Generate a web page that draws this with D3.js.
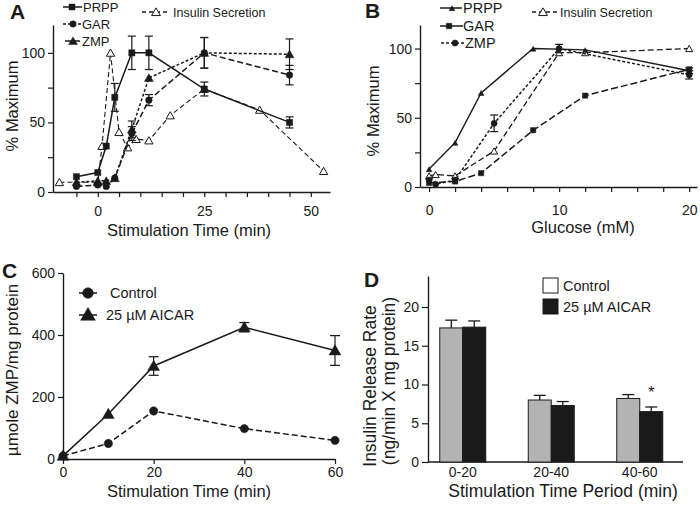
<!DOCTYPE html>
<html><head><meta charset="utf-8">
<script src="https://cdn.jsdelivr.net/npm/d3@7"></script>
<style>body{margin:0;background:#fff}svg text{font-family:"Liberation Sans",Arial,Helvetica,sans-serif;fill:#1a1a1a}</style>
</head><body><svg id="c" width="700" height="509"></svg>
<script>
// ---------- DATA ----------
// Panel A (stimulation time, min -> % maximum)
const aPrppT=[-5,0,2,4,8,12,25,45], aPrppV=[11,14,33,68,100,100,74,50], aPrppE=[0,0,0,10,12,12,5,4];
const aGarT=[-5,0,2,4,8,12,25,45],  aGarV=[4,5,4,10,42,66,100,84],   aGarE=[0,0,0,0,5,4,11,7];
const aZmpT=[-5,0,2,4,8,12,25,45],  aZmpV=[7,8,8,10,45,82,100,99],   aZmpE=[0,0,0,0,6,0,11,11];
const aInsT=[-9,0,1,3,5,7,9,12,17,25,38,53], aInsV=[7,7,33,100,43,32,38,37,55,74,59,15];
// Panel B (glucose mM -> % maximum)
const bPrppG=[0,2,4,8,12,20], bPrppV=[13,32,68,100,99,84], bPrppE=[0,0,0,0,0,2];
const bGarG=[0,2,4,8,12,20],  bGarV=[3,4,10,41,66,85];
const bZmpG=[0,0.5,2,5,10,20], bZmpV=[5,2,5,46,100,81], bZmpE=[0,0,0,6,3,3];
const bInsG=[0,0.5,2,5,10,12,20], bInsV=[8,9,8,26,97,97,100];
// Panel C (stimulation time -> umole ZMP/mg protein)
const cTime=[0,10,20,40,60];
const cCtrl=[10,50,155,98,60];
const cAicar=[10,145,300,425,350], cAicarE=[0,0,30,15,48];
// Panel D (insulin release rate)
const dPeriods=["0-20","20-40","40-60"];
const dCtrl=[17.3,8.0,8.2], dCtrlE=[1.0,0.6,0.5];
const dAicar=[17.4,7.3,6.5], dAicarE=[0.8,0.5,0.6];
// Ticks
const aXMajor=[0,25,50], aXMinor=[-5,5,10,15,20,30,35,40,45];
const pctMajor=[0,50,100], pctMinor=[25,75];
const bXMajor=[0,10,20], bXMinor=[2,4,6,8,12,14,16,18];
const cXTicks=[0,20,40,60], cYTicks=[0,200,400,600];
const dYTicks=[0,5,10,15,20];

// ---------- DRAW ----------
const svg=d3.select("#c");
const INK="#1a1a1a";

function zipS(t,v,e){return t.map((x,i)=>({x:x,y:v[i],e:e?e[i]:0}));}

function axisX(g,x,y0,major,minor,pad,fs){
  g.append("g").attr("transform",`translate(0,${y0})`)
    .call(d3.axisBottom(x).tickValues(major).tickSize(5).tickPadding(pad).tickSizeOuter(0).tickFormat(d3.format("d")))
    .call(s=>{s.selectAll("text").attr("font-size",fs);});
  if(minor) g.append("g").attr("transform",`translate(0,${y0})`)
    .call(d3.axisBottom(x).tickValues(minor).tickSize(5).tickSizeOuter(0).tickFormat(""))
    .call(s=>s.select(".domain").remove());
}
function axisY(g,y,x0,major,minor,pad,fs,ts){
  g.append("g").attr("transform",`translate(${x0},0)`)
    .call(d3.axisLeft(y).tickValues(major).tickSize(ts||5).tickPadding(pad).tickSizeOuter(0))
    .call(s=>{s.selectAll("text").attr("font-size",fs);});
  if(minor) g.append("g").attr("transform",`translate(${x0},0)`)
    .call(d3.axisLeft(y).tickValues(minor).tickSize(ts||5).tickSizeOuter(0).tickFormat(""))
    .call(s=>s.select(".domain").remove());
}
function styleAxes(){
  svg.selectAll(".domain").attr("stroke",INK).attr("stroke-width",1.4);
  svg.selectAll(".tick line").attr("stroke",INK).attr("stroke-width",1.2);
  svg.selectAll(".tick text").attr("fill",INK).attr("font-family",'"Liberation Sans",Arial,sans-serif');
}
const symT={square:d3.symbolSquare,circle:d3.symbolCircle,triangle:d3.symbolTriangle};
function drawSeries(g,x,y,s){
  const line=d3.line().x(d=>x(d.x)).y(d=>y(d.y));
  g.append("path").datum(s.pts).attr("d",line).attr("fill","none")
    .attr("stroke",INK).attr("stroke-width",s.w||1.5).attr("stroke-dasharray",s.dash||null);
  const cap=s.cap||4;
  s.pts.filter(d=>d.e>0).forEach(d=>{
    const xx=x(d.x), y1=y(d.y-d.e), y2=y(d.y+d.e);
    g.append("line").attr("x1",xx).attr("x2",xx).attr("y1",y1).attr("y2",y2).attr("stroke",INK).attr("stroke-width",1.2);
    [y1,y2].forEach(yy=>g.append("line").attr("x1",xx-cap).attr("x2",xx+cap).attr("y1",yy).attr("y2",yy).attr("stroke",INK).attr("stroke-width",1.2));
  });
  g.selectAll(null).data(s.pts).join("path")
    .attr("transform",d=>`translate(${x(d.x)},${y(d.y)+(s.sym==="triangle"?1:0)})`)
    .attr("d",d3.symbol().type(symT[s.sym]).size(s.size))
    .attr("fill",s.open?"#fff":INK).attr("stroke",INK).attr("stroke-width",s.open?1:0.5);
}
function legendItem(g,x1,x2,mx,yy,sym,size,dash,open,label,tx,fs){
  g.append("line").attr("x1",x1).attr("x2",x2).attr("y1",yy).attr("y2",yy).attr("stroke",INK).attr("stroke-width",1.5).attr("stroke-dasharray",dash||null);
  g.append("path").attr("transform",`translate(${mx},${yy+(sym==="triangle"?1:0)})`)
    .attr("d",d3.symbol().type(symT[sym]).size(size)).attr("fill",open?"#fff":INK).attr("stroke",INK).attr("stroke-width",open?1:0.5);
  g.append("text").attr("x",tx).attr("y",yy).attr("dy","0.36em").attr("font-size",fs).text(label);
}
function letter(x,y,t){svg.append("text").attr("x",x).attr("y",y).attr("font-size",21).attr("font-weight","bold").text(t);}
function ytitle(x,y,t,fs){svg.append("text").attr("transform",`translate(${x},${y}) rotate(-90)`).attr("text-anchor","middle").attr("font-size",fs||16.5).text(t);}
function xtitle(x,y,t,fs){svg.append("text").attr("x",x).attr("y",y).attr("text-anchor","middle").attr("font-size",fs||16.5).text(t);}

// ===== Panel A =====
{
  const g=svg.append("g");
  const x=d3.scaleLinear().domain([-10.5,54.5]).range([53,330]);
  const y=d3.scaleLinear().domain([0,120]).range([192,25]);
  axisX(g,x,192,aXMajor,aXMinor,9,14);
  axisY(g,y,53,pctMajor,pctMinor,3,14);
  drawSeries(g,x,y,{pts:zipS(aInsT,aInsV),sym:"triangle",size:30,open:true,dash:"5,3",w:1.1});
  drawSeries(g,x,y,{pts:zipS(aZmpT,aZmpV,aZmpE),sym:"triangle",size:34,dash:"3,2"});
  drawSeries(g,x,y,{pts:zipS(aGarT,aGarV,aGarE),sym:"circle",size:34,dash:"6,3"});
  drawSeries(g,x,y,{pts:zipS(aPrppT,aPrppV,aPrppE),sym:"square",size:38});
  letter(10,19,"A");
  legendItem(g,63,82,72,7,"square",36,null,false,"PRPP",83,13);
  legendItem(g,63,81,73,24,"circle",32,"3,2",false,"GAR",82,13);
  legendItem(g,65,81,73,41,"triangle",34,"6,3",false,"ZMP",82,13);
  legendItem(g,142,170,156,12,"triangle",34,"4,3",true,"Insulin Secretion",173,12.5);
  ytitle(18,106,"% Maximum");
  xtitle(189,236,"Stimulation Time (min)");
}
// ===== Panel B =====
{
  const g=svg.append("g");
  const x=d3.scaleLinear().domain([-0.7,20.6]).range([420,697]);
  const y=d3.scaleLinear().domain([0,117]).range([187,25]);
  axisX(g,x,187,bXMajor,bXMinor,13,14);
  axisY(g,y,420,pctMajor,pctMinor,3,14);
  drawSeries(g,x,y,{pts:zipS(bInsG,bInsV),sym:"triangle",size:22,open:true,dash:"6,3",w:1.3});
  drawSeries(g,x,y,{pts:zipS(bGarG,bGarV),sym:"square",size:28,dash:"7,3"});
  drawSeries(g,x,y,{pts:zipS(bZmpG,bZmpV,bZmpE),sym:"circle",size:30,dash:"3,2",cap:4});
  drawSeries(g,x,y,{pts:zipS(bPrppG,bPrppV,bPrppE),sym:"triangle",size:14,w:1.4});
  letter(365,18,"B");
  legendItem(g,440,462,452,8,"triangle",14,null,false,"PRPP",463,14.5);
  legendItem(g,440,463,449,26,"square",30,null,false,"GAR",463,14.5);
  legendItem(g,441,464,455,43,"circle",30,"3,2",false,"ZMP",465,14.5);
  legendItem(g,532,558,543,12,"triangle",34,"4,3",true,"Insulin Secretion",560,12.5);
  ytitle(379,111,"% Maximum");
  xtitle(583,233,"Glucose (mM)");
}
// ===== Panel C =====
{
  const g=svg.append("g");
  const x=d3.scaleLinear().domain([0,60]).range([63,335]);
  const y=d3.scaleLinear().domain([0,600]).range([459,273]);
  axisX(g,x,459,cXTicks,null,3,14);
  axisY(g,y,63,cYTicks,null,3,14);
  drawSeries(g,x,y,{pts:zipS(cTime,cCtrl),sym:"circle",size:55,dash:"6,3"});
  drawSeries(g,x,y,{pts:zipS(cTime,cAicar,cAicarE),sym:"triangle",size:60,cap:5});
  letter(2,278,"C");
  legendItem(g,79,97,88,293,"circle",90,null,false,"Control",110,14.5);
  legendItem(g,79,97,88,315,"triangle",95,null,false,"25 µM AICAR",106,14.5);
  ytitle(18,370,"µmole ZMP/mg protein",17);
  xtitle(189,497,"Stimulation Time (min)");
}
// ===== Panel D =====
{
  const g=svg.append("g");
  const x=d3.scaleBand().domain(dPeriods).range([418.5,684]);
  const y=d3.scaleLinear().domain([0,24]).range([462,276]);
  axisY(g,y,428,dYTicks,null,3,14,6);
  g.append("g").attr("transform","translate(0,462)")
    .call(d3.axisBottom(x).tickSize(0).tickPadding(5))
    .call(s=>{s.select(".domain").remove();s.selectAll("text").attr("font-size",14);});
  g.append("line").attr("x1",428).attr("x2",683).attr("y1",462).attr("y2",462).attr("stroke",INK).attr("stroke-width",1.4);
  const bw=23;
  const groups=[{v:dCtrl,e:dCtrlE,fill:"#b3b3b3",off:-bw},{v:dAicar,e:dAicarE,fill:"#1a1a1a",off:0}];
  groups.forEach(gr=>{
    dPeriods.forEach((p,i)=>{
      const cx=x(p)+x.bandwidth()/2+gr.off;
      const top=y(gr.v[i]), et=y(gr.v[i]+gr.e[i]);
      g.append("line").attr("x1",cx+bw/2).attr("x2",cx+bw/2).attr("y1",top).attr("y2",et).attr("stroke",INK).attr("stroke-width",1.3);
      g.append("line").attr("x1",cx+bw/2-6).attr("x2",cx+bw/2+6).attr("y1",et).attr("y2",et).attr("stroke",INK).attr("stroke-width",1.3);
      g.append("rect").attr("x",cx).attr("y",top).attr("width",bw).attr("height",y(0)-top)
        .attr("fill",gr.fill).attr("stroke",INK).attr("stroke-width",1);
    });
  });
  const c3=x(dPeriods[2])+x.bandwidth()/2+bw/2;
  g.append("text").attr("x",c3).attr("y",y(dAicar[2]+dAicarE[2])-9).attr("text-anchor","middle").attr("font-size",16).text("*");
  g.append("rect").attr("x",543).attr("y",278).attr("width",15).attr("height",15).attr("fill","#fff").attr("stroke",INK).attr("stroke-width",1);
  g.append("text").attr("x",563).attr("y",285.5).attr("dy","0.36em").attr("font-size",14.5).text("Control");
  g.append("rect").attr("x",543).attr("y",299).attr("width",15).attr("height",15).attr("fill","#1a1a1a").attr("stroke",INK).attr("stroke-width",1);
  g.append("text").attr("x",563).attr("y",306.5).attr("dy","0.36em").attr("font-size",14.5).text("25 µM AICAR");
  letter(364,287,"D");
  svg.append("text").attr("transform","translate(376,386) rotate(-90)").attr("text-anchor","middle").attr("font-size",17.5).text("Insulin Release Rate");
  svg.append("text").attr("transform","translate(395,381) rotate(-90)").attr("text-anchor","middle").attr("font-size",17.5).text("(ng/min X mg protein)");
  xtitle(563,497,"Stimulation Time Period (min)",17.5);
}
styleAxes();
</script></body></html>
